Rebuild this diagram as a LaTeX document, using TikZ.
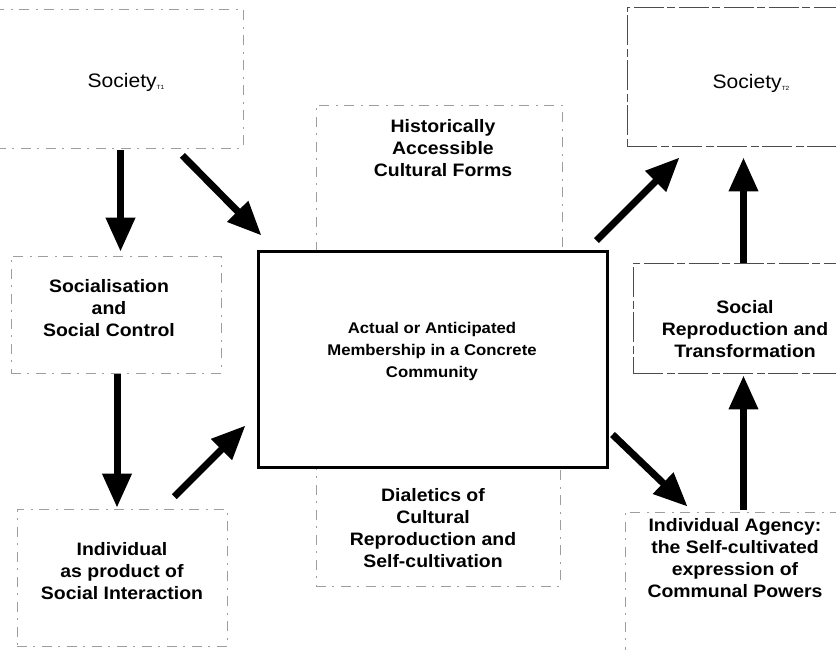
\documentclass[tikz,border=0pt]{standalone}
\usepackage{fontspec}
\setmainfont{Liberation Sans}[FakeStretch=1.08]
\usetikzlibrary{arrows.meta,fit}
\newcommand{\tsub}[1]{\raisebox{-2.5pt}{\fontsize{6}{6}\selectfont #1}}
\begin{document}
\begin{tikzpicture}[x=1pt,y=-1pt,
  frame/.style={draw=black!38, line width=0.75pt, dash pattern=on 10pt off 6pt on 2pt off 7pt, inner sep=0pt},
  firmframe/.style={draw=black!70, line width=0.9pt, dash pattern=on 30pt off 4pt on 8pt off 3pt, inner sep=0pt},
  hub/.style={draw=black, line width=3pt, inner sep=0pt},
  lbl/.style={align=center, font=\fontsize{18}{22}\selectfont\bfseries, inner sep=0pt},
  hublbl/.style={align=center, font=\fontsize{15.5}{22}\selectfont\bfseries, inner sep=0pt},
  soclbl/.style={font=\fontsize{19.5}{22}\selectfont, inner sep=0pt},
  arr/.style={line width=7pt, -{Triangle[length=34pt,width=28pt]}},
]
\useasboundingbox (0,0) rectangle (836,649);

% boxes
\node[frame, fit={(-4,9) (243,148)}] (s1) {};
\node[firmframe, fit={(627,7) (846,146)}] (s2) {};
\node[frame, fit={(316,105) (562,251)}] (hist) {};
\node[frame, fit={(316,467) (560,586)}] (dial) {};
\node[frame, fit={(11,256) (221,373)}] (soc) {};
\node[frame, fit={(17,509) (227,646)}] (ind) {};
\node[firmframe, fit={(633,263) (846,373)}] (rep) {};
\node[frame, fit={(625,512) (846,660)}] (ag) {};
\node[hub, fill=white, fit={(258,251) (607,467)}] (ctr) {};

% labels
\node[soclbl] (s1t) at (126,82) {Society\tsub{T1}};
\node[soclbl] (s2t) at (751,83) {Society\tsub{T2}};
\node[lbl] (histt) at (443,148) {Historically\\Accessible\\Cultural Forms};
\node[hublbl] (ctrt) at (432,351) {Actual or Anticipated\\Membership in a Concrete\\Community};
\node[lbl] (dialt) at (433,528) {Dialetics of\\Cultural\\Reproduction and\\Self-cultivation};
\node[lbl] (soct) at (109,308) {Socialisation\\and\\Social Control};
\node[lbl] (indt) at (122,571) {Individual\\as product of\\Social Interaction};
\node[lbl] (rept) at (745,329) {Social\\Reproduction and\\Transformation};
\node[lbl] (agt) at (735,558) {Individual Agency:\\the Self-cultivated\\expression of\\Communal Powers};

% connectors
\draw[arr, shorten <=2pt, shorten >=4pt] ([xshift=1pt]s1.south) -- ([xshift=1pt]s1.south |- soc.north);
\draw[arr] ([shift={(-61,7)}]s1.south east) -- ([shift={(5,-14)}]ctr.north west);
\draw[arr, shorten <=1pt, shorten >=1pt] ([xshift=1pt]soc.south) -- ([xshift=1pt]soc.south |- ind.north);
\draw[arr] ([shift={(-53,-12)}]ind.north east) -- ([shift={(-11,-43)}]ctr.south west);
\draw[arr] ([shift={(-12,-9)}]ctr.north east) -- ([shift={(53,11)}]s2.south west);
\draw[arr, shorten <=0pt, shorten >=11pt] ([xshift=4pt]rep.north) -- ([xshift=4pt]rep.north |- s2.south);
\draw[arr, shorten <=2pt, shorten >=2pt] ([xshift=8pt]ag.north) -- ([xshift=8pt]ag.north |- rep.south);
\draw[arr] ([shift={(4,-34)}]ctr.south east) -- ([shift={(63,-5)}]ag.north west);
\end{tikzpicture}
\end{document}
